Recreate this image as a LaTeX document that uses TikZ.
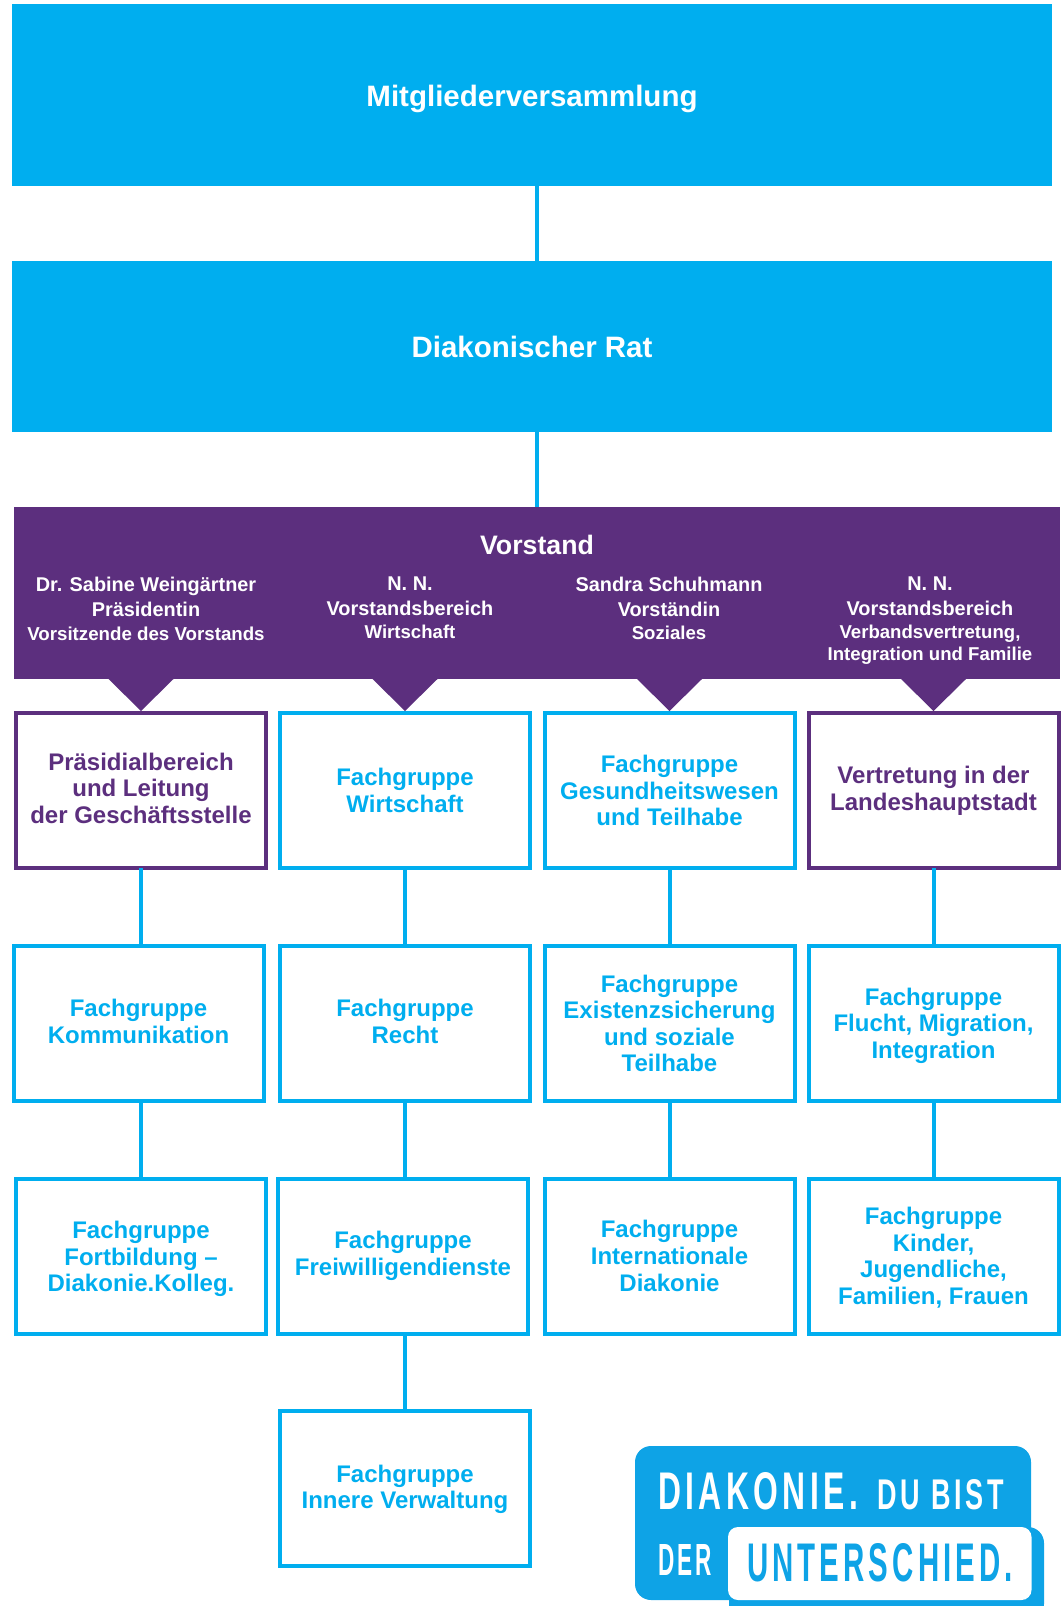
\documentclass[tikz,border=0pt]{standalone}
\usepackage{fontspec}
\usepackage{graphicx}
\setmainfont{Liberation Sans}
\newfontfamily\logofont[LetterSpace=14]{Liberation Sans}
\definecolor{dblue}{HTML}{00AEEF}
\definecolor{dpurple}{HTML}{5C2F7E}
\definecolor{lblue}{HTML}{0EA3E6}
\tikzset{
  band/.style={fill=dblue,text=white,inner sep=0,outer sep=0,font=\fontsize{29.5}{33}\selectfont\bfseries},
  orgbox/.style={draw=dblue,line width=4pt,fill=white,text=dblue,inner sep=0,outer sep=0,
    minimum width=250pt,minimum height=155pt,align=center,
    font=\fontsize{24}{26.6}\selectfont\bfseries},
  purplebox/.style={orgbox,draw=dpurple,text=dpurple},
  link/.style={draw=dblue,line width=4pt},
  namelabel/.style={text=white,align=center,inner sep=0,font=\fontsize{19.9}{25}\selectfont\bfseries},
  logotext/.style={inner sep=0,outer sep=0,anchor=south west},
}
\newcommand{\smallname}{\fontsize{18.6}{22.5}\selectfont}
% extra room above the text: moves it down by half of #1 inside its box
\newcommand{\padtop}[2]{\raisebox{0pt}[\dimexpr\height+#1\relax]{\begin{tabular}{@{}c@{}}#2\end{tabular}}}
\begin{document}
\begin{tikzpicture}[x=1pt,y=-1pt]
\useasboundingbox (0,0) rectangle (1062,1606);
% bands
\node[band,minimum width=1040pt,minimum height=182pt] (top) at (532,95) {\raisebox{0pt}[\dimexpr\height+8pt\relax]{Mitgliederversammlung}};
\node[band,minimum width=1040pt,minimum height=171pt] (rat) at (532,346.5) {Diakonischer Rat};
\node[fill=dpurple,inner sep=0,outer sep=0,minimum width=1046pt,minimum height=172pt] (vor) at (537,593) {};
\node[text=white,inner sep=0,font=\fontsize{26.7}{30}\selectfont\bfseries] (vt) at (537,545) {Vorstand};
\node[namelabel,anchor=north] (n1) at (146,577) {Dr. Sabine Weingärtner\\[-0.5pt]Präsidentin\\[-0.5pt]\fontsize{18.7}{25}\selectfont Vorsitzende des Vorstands};
\node[namelabel,anchor=north] (n2) at (410,577) {N. N.\\[0pt]Vorstandsbereich\\[-2pt]\smallname Wirtschaft};
\node[namelabel,anchor=north] (n3) at (669,577) {Sandra Schuhmann\\[0pt]Vorständin\\[-2pt]\smallname Soziales};
\node[namelabel,anchor=north] (n4) at (930,577) {N. N.\\[0pt]Vorstandsbereich\\[-2pt]\smallname Verbandsvertretung,\\[-3.5pt]\smallname Integration und Familie};
% boxes
\node[purplebox] (a1) at (141,790.5) {\padtop{2pt}{Präsidialbereich\\und Leitung\\der Geschäftsstelle}};
\node[orgbox] (a2) at (405,790.5) {Fachgruppe\\Wirtschaft};
\node[orgbox] (a3) at (669.5,790.5) {Fachgruppe\\Gesundheitswesen\\und Teilhabe};
\node[purplebox] (a4) at (933.5,790.5) {Vertretung in der\\Landeshauptstadt};
\node[orgbox] (b1) at (138.5,1023.5) {\padtop{2pt}{Fachgruppe\\Kommunikation}};
\node[orgbox] (b2) at (405,1023.5) {\padtop{2pt}{Fachgruppe\\Recht}};
\node[orgbox] (b3) at (669.5,1023.5) {Fachgruppe\\Existenzsicherung\\und soziale\\Teilhabe};
\node[orgbox] (b4) at (933.5,1023.5) {\padtop{6pt}{Fachgruppe\\Flucht, Migration,\\Integration}};
\node[orgbox] (c1) at (141,1256) {\padtop{8pt}{Fachgruppe\\Fortbildung --\\Diakonie.Kolleg.}};
\node[orgbox] (c2) at (403,1256) {Fachgruppe\\Freiwilligendienste};
\node[orgbox] (c3) at (669.5,1256) {Fachgruppe\\Internationale\\Diakonie};
\node[orgbox] (c4) at (933.5,1256) {\padtop{6pt}{Fachgruppe\\Kinder,\\Jugendliche,\\Familien, Frauen}};
\node[orgbox] (d2) at (405,1488) {\padtop{4pt}{Fachgruppe\\Innere Verwaltung}};
% connectors
\draw[link] (top.south -| vor.north) -- (rat.north -| vor.north);
\draw[link] (rat.south -| vor.north) -- (vor.north);
\foreach \u/\v in {a1/b1,b1/c1}{\draw[link] (\u.south -| a1.south) -- (\v.north -| a1.south);}
\foreach \u/\v in {a2/b2,b2/c2,c2/d2}{\draw[link] (\u.south -| a2.south) -- (\v.north -| a2.south);}
\foreach \u/\v in {a3/b3,b3/c3}{\draw[link] (\u.south) -- (\v.north);}
\foreach \u/\v in {a4/b4,b4/c4}{\draw[link] (\u.south) -- (\v.north);}
% pointers from the Vorstand band
\foreach \b in {a1,a2,a3,a4}{
  \fill[dpurple] ([xshift=-32.5pt]\b.north |- vor.south) -- ([xshift=32.5pt]\b.north |- vor.south) -- ([yshift=2pt]\b.north) -- cycle;}
% logo
\path[fill=lblue,rounded corners=16pt] (729,1606) -- (729,1527) -- (1044,1527) -- (1044,1620) -- (729,1620) -- cycle;
\path[fill=lblue,rounded corners=16pt] (635,1446) rectangle (1031,1600);
\path[fill=white,rounded corners=10pt] (728,1600) -- (728,1527) -- (1031.5,1527) -- (1031.5,1600) -- cycle;
\node[logotext,text=white] (l1) at (658,1510) {\resizebox{200pt}{37pt}{\logofont\bfseries DIAKONIE.}};
\node[logotext,text=white] (l2) at (877,1510) {\resizebox{127pt}{30pt}{\logofont\bfseries DU BIST}};
\node[logotext,text=white] (l3) at (658,1575) {\resizebox{54pt}{31pt}{\logofont\bfseries DER}};
\node[logotext,text=lblue] (l4) at (747,1582) {\resizebox{266pt}{38pt}{\logofont\bfseries UNTERSCHIED.}};
\end{tikzpicture}
\end{document}
